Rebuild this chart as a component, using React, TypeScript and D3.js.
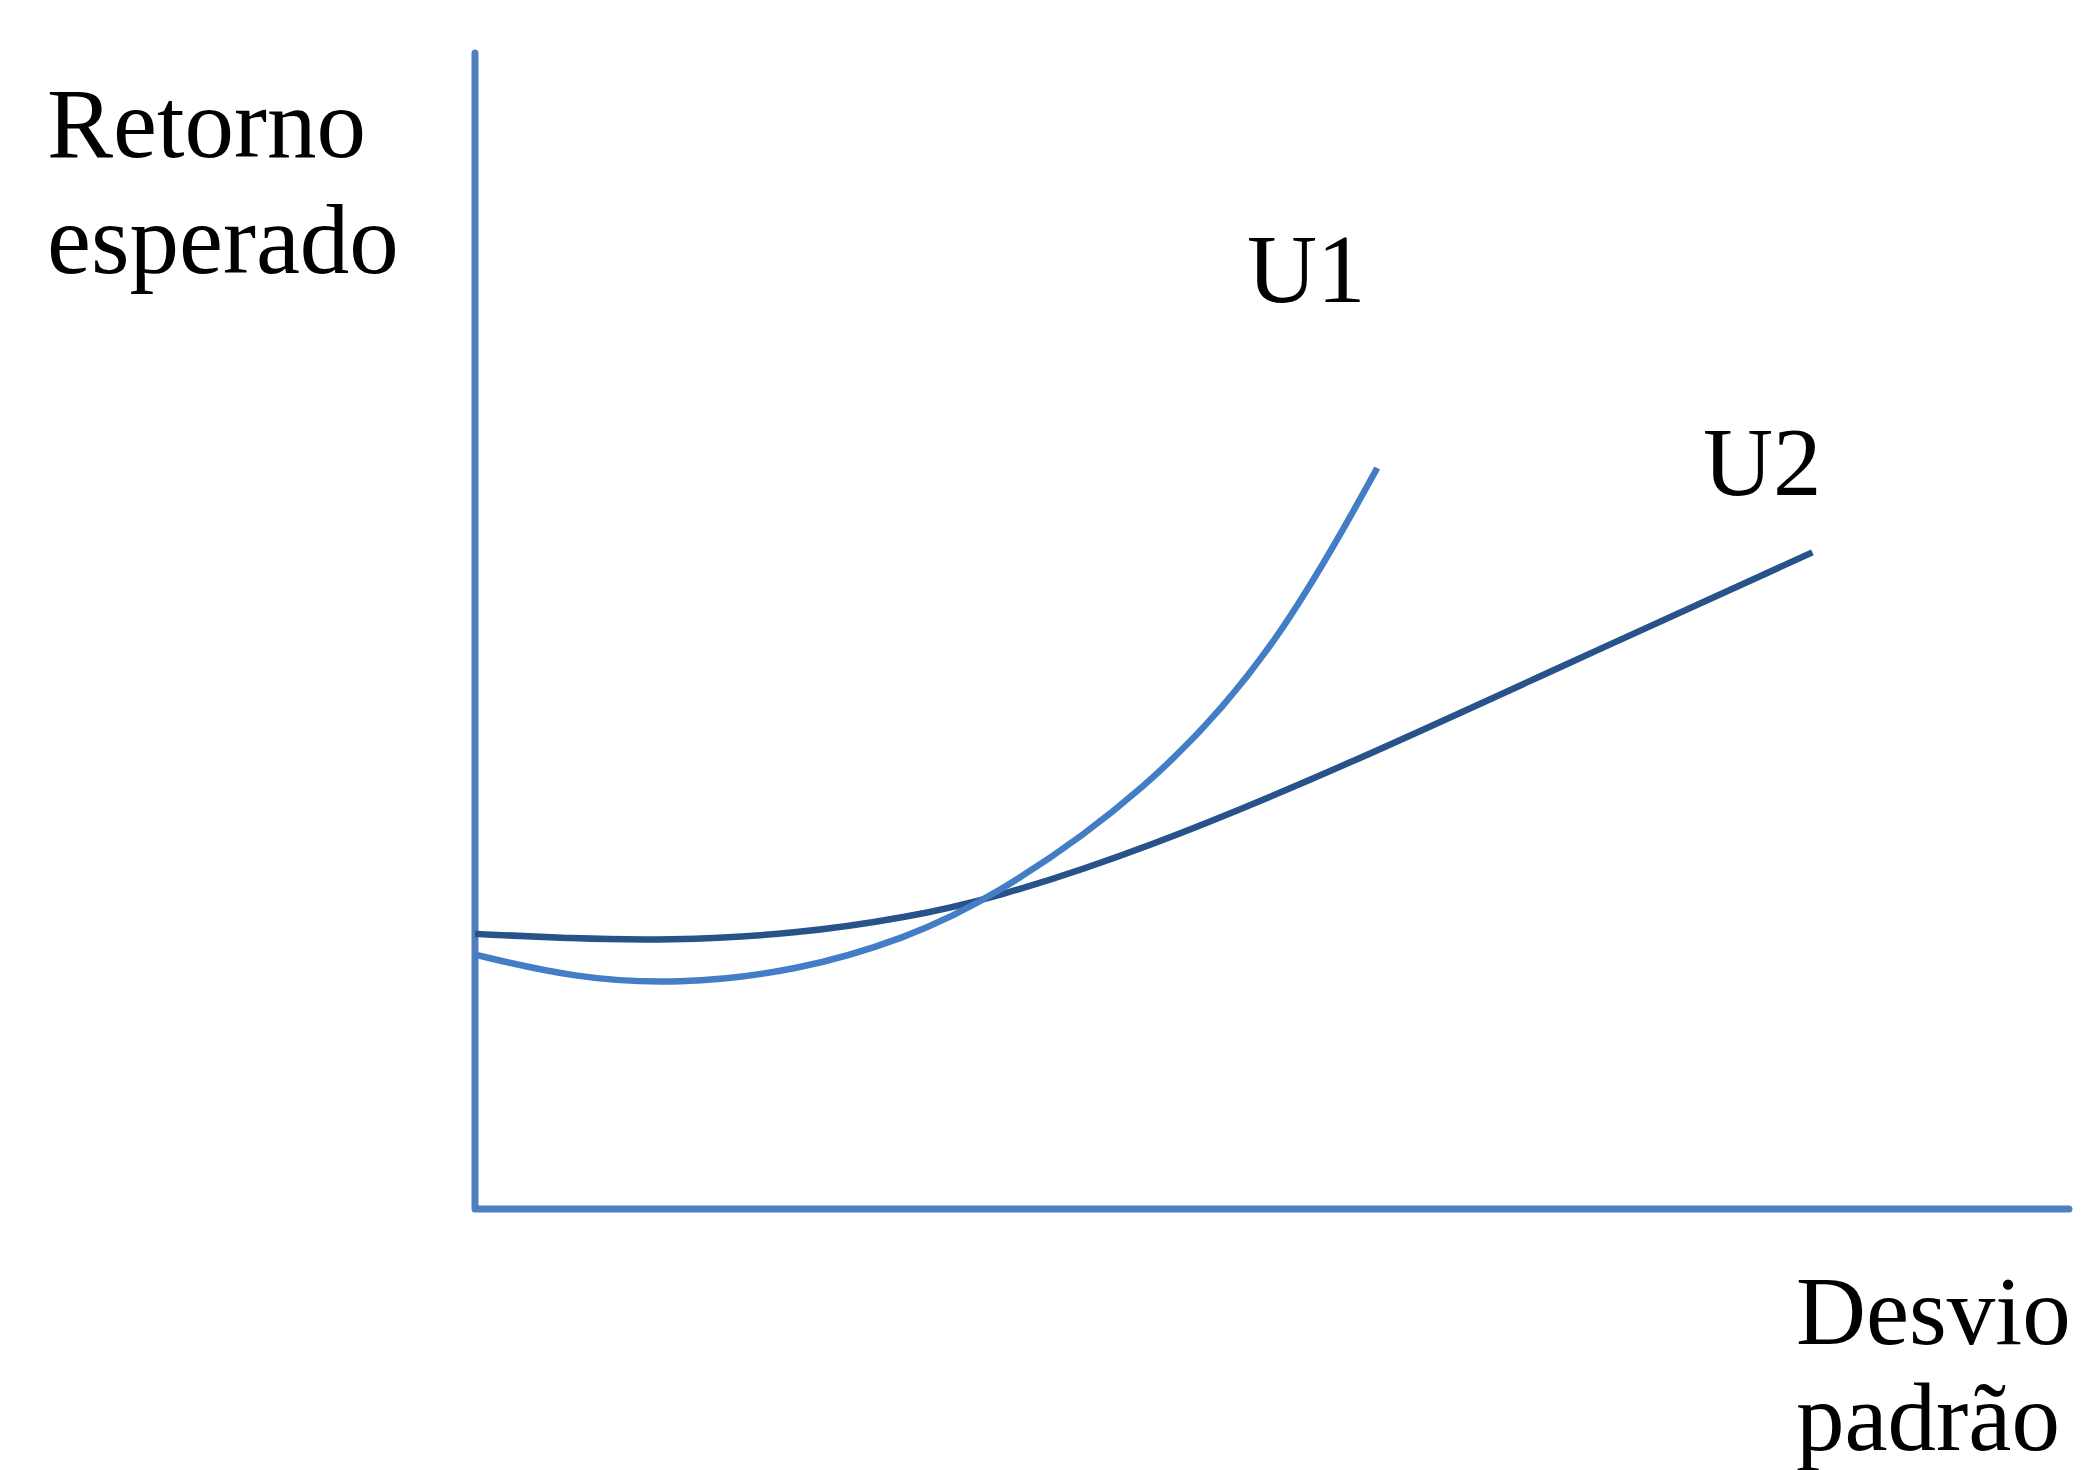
import React from 'react';
import * as d3 from 'd3';

// Indifference curves (x = desvio padrão, y = retorno esperado, 0-100 units)
const u1X = [0, 6.1, 12.7, 20.3, 27.0, 32.4, 42.2, 50.3, 56.6];
const u1Y = [22.0, 20.0, 19.4, 20.6, 23.4, 26.8, 36.1, 48.4, 64.1];
const u2X = [0, 6.1, 11.9, 20.3, 27.0, 32.4, 42.2, 54.7, 67.3, 83.9];
const u2Y = [23.8, 23.4, 23.2, 23.8, 25.2, 26.8, 31.2, 38.4, 46.4, 56.8];

const yLabel = ['Retorno', 'esperado'];
const xLabel = ['Desvio', 'padrão'];
const curveNames = ['U1', 'U2'];

const W = 2086;
const H = 1470;

const App: React.FC = () => {
  const x = d3.scaleLinear().domain([0, 100]).range([475, 2069]);
  const y = d3.scaleLinear().domain([0, 100]).range([1209, 53]);

  const line = d3
    .line<[number, number]>()
    .x(d => x(d[0]))
    .y(d => y(d[1]))
    .curve(d3.curveBasis);

  const u1 = u1X.map((v, i) => [v, u1Y[i]] as [number, number]);
  const u2 = u2X.map((v, i) => [v, u2Y[i]] as [number, number]);

  const font = "'Liberation Serif', 'Times New Roman', serif";
  const fs = 99;

  // axis as one path so the corner joins cleanly
  const axisPath = `M${x(0)},${y(100)} L${x(0)},${y(0)} L${x(100)},${y(0)}`;

  return (
    <svg
      width={W}
      height={H}
      viewBox={`0 0 ${W} ${H}`}
      style={{ position: 'absolute', left: 0, top: 0, background: '#fff' }}
    >
      <rect width={W} height={H} fill="#ffffff" />

      <path d={axisPath} fill="none" stroke="#4f80bd" strokeWidth={7} strokeLinejoin="round" strokeLinecap="round" />

      <path d={line(u2) || ''} fill="none" stroke="#27528a" strokeWidth={6.5} />
      <path d={line(u1) || ''} fill="none" stroke="#437dc6" strokeWidth={6.5} />

      <g fontFamily={font} fontSize={fs} fill="#000">
        <text x={47} y={157}>{yLabel[0]}</text>
        <text x={47} y={273}>{yLabel[1]}</text>

        <text x={1247} y={302} fontSize={97}>{curveNames[0]}</text>
        <text x={1703} y={495} fontSize={97}>{curveNames[1]}</text>

        <text x={1796} y={1344} fontSize={97}>{xLabel[0]}</text>
        <text x={1796} y={1450} fontSize={97}>{xLabel[1]}</text>
      </g>
    </svg>
  );
};

export default App;
